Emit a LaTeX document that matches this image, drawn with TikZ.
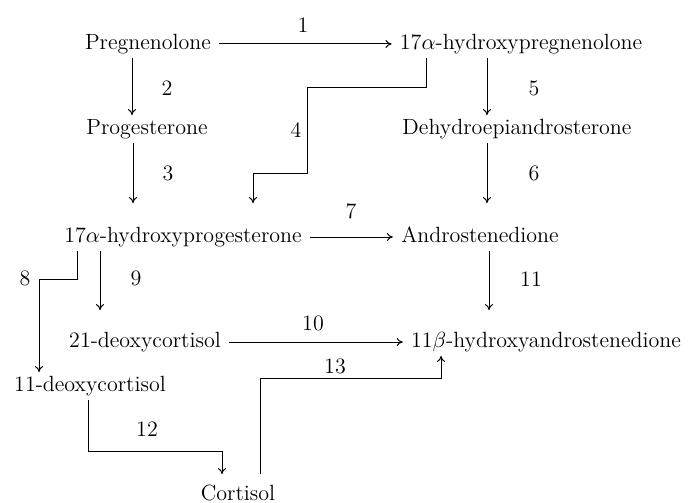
\documentclass[tikz,border=0pt]{standalone}
\usetikzlibrary{arrows.meta}

\tikzset{
  compound/.style={inner ysep=1.5pt, inner xsep=4pt, text height=8pt, text depth=2.5pt, font=\fontsize{11}{13}\selectfont},
  stepnum/.style={inner sep=0pt, font=\fontsize{11}{13}\selectfont},
  route/.style={->, >={To[length=3pt,width=4pt]}, line width=0.5pt}
}

\begin{document}
\begin{tikzpicture}[x=0.5pt,y=-0.5pt]

% Frame
\useasboundingbox (0,0) rectangle (688,502);

% Compounds
\node[compound] (preg)    at (148,44)  {Pregnenolone};
\node[compound] (hpreg)   at (521,44)  {17$\alpha$-hydroxypregnenolone};
\node[compound] (prog)    at (147,129) {Progesterone};
\node[compound] (dhea)    at (517,129) {Dehydroepiandrosterone};
\node[compound] (hprog)   at (183,237) {17$\alpha$-hydroxyprogesterone};
\node[compound] (andro)   at (480,237) {Androstenedione};
\node[compound] (deoxyb)  at (145,342) {21-deoxycortisol};
\node[compound] (hydand)  at (546,342) {11$\beta$-hydroxyandrostenedione};
\node[compound] (deoxya)  at (90,386)  {11-deoxycortisol};
\node[compound] (cort)    at (238,495) {Cortisol};

% Step numbers
\node[stepnum] (l1)  at (303,25)  {1};
\node[stepnum] (l2)  at (167,88)  {2};
\node[stepnum] (l3)  at (168,173) {3};
\node[stepnum] (l4)  at (296,130) {4};
\node[stepnum] (l5)  at (534,88)  {5};
\node[stepnum] (l6)  at (534,173) {6};
\node[stepnum] (l7)  at (351,211) {7};
\node[stepnum] (l8)  at (25,278)  {8};
\node[stepnum] (l9)  at (136,278) {9};
\node[stepnum] (l10) at (313,323) {10};
\node[stepnum] (l11) at (531,279) {11};
\node[stepnum] (l12) at (147,429) {12};
\node[stepnum] (l13) at (335,366) {13};

% Conversions
\draw[route] (preg.east) -- (hpreg.west);
\draw[route] ([xshift=-8pt]preg.south) -- ([xshift=-7.5pt]prog.north);
\draw[route, shorten >=10pt] ([xshift=-7pt]prog.south) -- ([xshift=-25pt]hprog.north);
\draw[route, shorten >=10pt] ([xshift=-47.5pt]hpreg.south) |- (307,88) |- (253,173) -- ([xshift=35pt]hprog.north);
\draw[route] ([xshift=-17pt]hpreg.south) -- ([xshift=-15pt]dhea.north);
\draw[route, shorten >=10pt] ([xshift=-15pt]dhea.south) -- ([xshift=3.5pt]andro.north);
\draw[route] (hprog.east) -- (andro.west);
\draw[route] ([xshift=-53pt]hprog.south) |- (39,279) -- ([xshift=-25.5pt]deoxya.north);
\draw[route, shorten >=9pt] ([xshift=-41.5pt]hprog.south) -- ([xshift=-22.5pt]deoxyb.north);
\draw[route] (deoxyb.east) -- (hydand.west);
\draw[route, shorten >=9pt] ([xshift=4.5pt]andro.south) -- ([xshift=-28.5pt]hydand.north);
\draw[route, shorten >=3.5pt] ([xshift=-1pt]deoxya.south) |- (222,451) -- ([xshift=-8pt]cort.north);
\draw[route, shorten <=3.5pt] ([xshift=11pt]cort.north) |- (441,378) -- ([xshift=-52.5pt]hydand.south);

\end{tikzpicture}
\end{document}
